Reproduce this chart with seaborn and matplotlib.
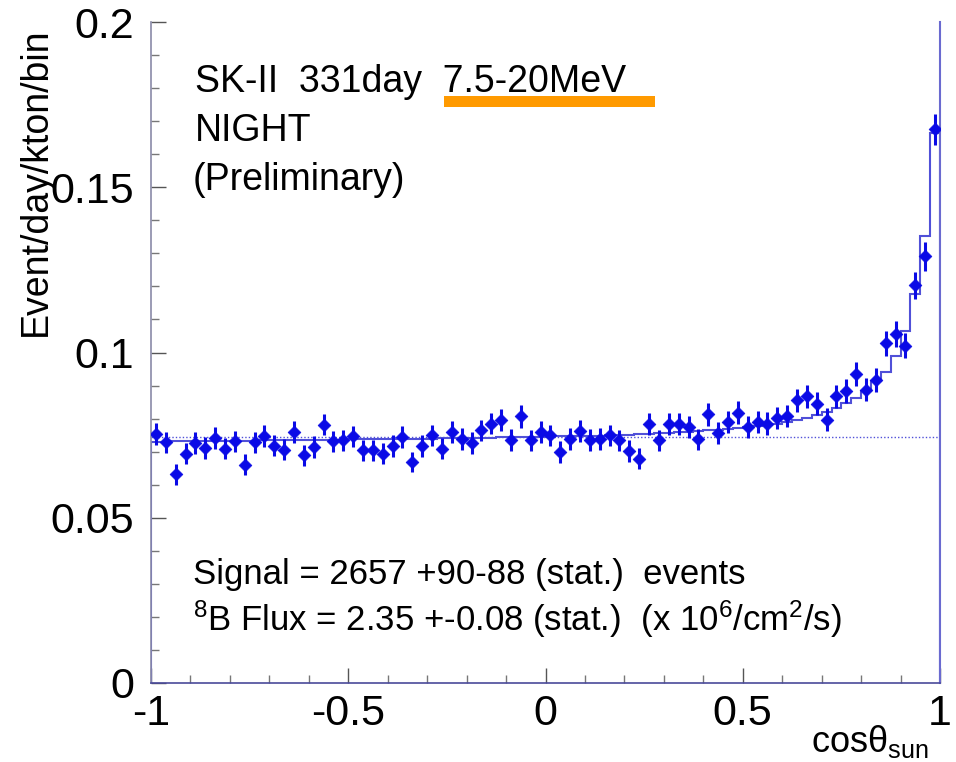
import numpy as np
import matplotlib
matplotlib.use("Agg")
import matplotlib.pyplot as plt
from matplotlib.patches import Rectangle
from matplotlib.ticker import MultipleLocator
import seaborn as sns

# ---------------- data ----------------
bin_edges = np.linspace(-1.0, 1.0, 81)
bin_centers = 0.5 * (bin_edges[:-1] + bin_edges[1:])

data_values = [
    0.0754, 0.0728, 0.0631, 0.0694, 0.0726, 0.0711, 0.0741, 0.0709, 0.0731, 0.0661,
    0.0728, 0.0748, 0.0718, 0.0706, 0.0759, 0.0689, 0.0714, 0.0782, 0.0731, 0.0734,
    0.0746, 0.0704, 0.0704, 0.0694, 0.0717, 0.0745, 0.0669, 0.0717, 0.0749, 0.0709,
    0.0759, 0.0739, 0.0726, 0.0764, 0.0785, 0.0795, 0.0736, 0.0807, 0.0734, 0.0759,
    0.0749, 0.0699, 0.0739, 0.0762, 0.0736, 0.0739, 0.0749, 0.0734, 0.0702, 0.0679,
    0.0784, 0.0734, 0.0784, 0.0784, 0.0774, 0.0737, 0.0813, 0.0756, 0.0789, 0.0818,
    0.0774, 0.0789, 0.0785, 0.0802, 0.0808, 0.0855, 0.0867, 0.0845, 0.0797, 0.0867,
    0.0883, 0.0934, 0.0888, 0.0917, 0.1028, 0.1056, 0.1021, 0.1204, 0.1291, 0.1676,
]

data_errors = [
    0.0033, 0.0032, 0.0031, 0.0032, 0.0032, 0.0032, 0.0033, 0.0032, 0.0032, 0.0031,
    0.0032, 0.0033, 0.0032, 0.0032, 0.0033, 0.0032, 0.0032, 0.0033, 0.0032, 0.0032,
    0.0033, 0.0032, 0.0032, 0.0032, 0.0032, 0.0033, 0.0031, 0.0032, 0.0033, 0.0032,
    0.0033, 0.0033, 0.0032, 0.0033, 0.0033, 0.0034, 0.0033, 0.0034, 0.0033, 0.0033,
    0.0033, 0.0032, 0.0033, 0.0033, 0.0033, 0.0033, 0.0033, 0.0033, 0.0032, 0.0032,
    0.0033, 0.0033, 0.0033, 0.0033, 0.0033, 0.0033, 0.0034, 0.0033, 0.0034, 0.0034,
    0.0033, 0.0034, 0.0034, 0.0034, 0.0034, 0.0035, 0.0035, 0.0035, 0.0034, 0.0035,
    0.0036, 0.0036, 0.0036, 0.0036, 0.0038, 0.0038, 0.0038, 0.0041, 0.0043, 0.0047,
]

fit_values = [
    0.0730, 0.0730, 0.0731, 0.0731, 0.0731, 0.0732, 0.0732, 0.0732, 0.0733, 0.0733,
    0.0733, 0.0734, 0.0734, 0.0734, 0.0735, 0.0735, 0.0735, 0.0736, 0.0736, 0.0736,
    0.0737, 0.0737, 0.0737, 0.0738, 0.0738, 0.0738, 0.0739, 0.0739, 0.0739, 0.0740,
    0.0740, 0.0741, 0.0741, 0.0742, 0.0742, 0.0743, 0.0743, 0.0744, 0.0744, 0.0745,
    0.0745, 0.0746, 0.0746, 0.0747, 0.0747, 0.0748, 0.0749, 0.0750, 0.0751, 0.0752,
    0.0754, 0.0755, 0.0757, 0.0758, 0.0760, 0.0762, 0.0764, 0.0766, 0.0769, 0.0771,
    0.0774, 0.0777, 0.0781, 0.0785, 0.0790, 0.0797, 0.0803, 0.0810, 0.0820, 0.0833,
    0.0847, 0.0862, 0.0883, 0.0915, 0.0940, 0.0990, 0.1066, 0.1177, 0.1353, 0.1665,
]

background_level = 0.0745

x_ticks = [-1, -0.5, 0, 0.5, 1]
x_tick_labels = ["-1", "-0.5", "0", "0.5", "1"]
y_ticks = [0, 0.05, 0.1, 0.15, 0.2]
y_tick_labels = ["0", "0.05", "0.1", "0.15", "0.2"]

# ---------------- style ----------------
sns.set_theme(style="white")
plt.rcParams["font.family"] = ["Liberation Sans", "DejaVu Sans"]
plt.rcParams["mathtext.fontset"] = "custom"
plt.rcParams["mathtext.rm"] = "Liberation Sans"
plt.rcParams["mathtext.it"] = "Liberation Sans:italic"
plt.rcParams["mathtext.bf"] = "Liberation Sans:bold"
plt.rcParams["text.color"] = "black"

W, H = 956, 762
fig = plt.figure(figsize=(W / 100, H / 100), dpi=100)
ax_left, ax_right, ax_top, ax_bottom = 151, 940, 22, 683
ax = fig.add_axes([ax_left / W, 1 - ax_bottom / H,
                   (ax_right - ax_left) / W, (ax_bottom - ax_top) / H])

point_color = "#0a0ae6"
fit_color = "#5050d8"

# fit histogram (step)
ax.stairs(fit_values, bin_edges, baseline=0, fill=False,
          color=fit_color, linewidth=1.5, zorder=2)
# flat background dotted line
ax.axhline(background_level, color=fit_color, linestyle=(0, (1, 1.5)),
           linewidth=1.0, zorder=1)

# data with error bars
ax.errorbar(bin_centers, data_values, yerr=data_errors, fmt="none",
            ecolor=point_color, elinewidth=2.2, capsize=0, zorder=3)
sns.scatterplot(x=bin_centers, y=data_values, marker="D", s=42,
                color=point_color, edgecolor=point_color, linewidth=0.5,
                ax=ax, zorder=4, legend=False)

ax.set_xlim(-1, 1)
ax.set_ylim(0, 0.2)
ax.set_xticks(x_ticks)
ax.set_xticklabels(x_tick_labels)
ax.set_yticks(y_ticks)
ax.set_yticklabels(y_tick_labels)
ax.xaxis.set_minor_locator(MultipleLocator(0.1))
ax.yaxis.set_minor_locator(MultipleLocator(0.01))
ax.tick_params(axis="both", which="both", bottom=True, left=True,
               top=False, right=False)
ax.tick_params(axis="both", which="major", direction="in", length=11,
               width=1.0, color="#555555", labelsize=31, labelcolor="black")
ax.tick_params(axis="both", which="minor", direction="in", length=6,
               width=1.0, color="#777777")
ax.tick_params(axis="x", which="major", pad=8)
ax.tick_params(axis="y", which="major", pad=12)
ax.set_xlabel("")
ax.set_ylabel("")

ax.spines["top"].set_visible(False)
ax.spines["left"].set_color("#8a8aa8")
ax.spines["left"].set_linewidth(1.2)
ax.spines["bottom"].set_color("#4a4a9a")
ax.spines["bottom"].set_linewidth(1.2)
ax.spines["right"].set_color("#6a6ad0")
ax.spines["right"].set_linewidth(1.5)

# axis titles
fig.text(36 / W, 1 - 182 / H, "Event/day/kton/bin", rotation=90,
         ha="center", va="center", fontsize=27, color="black")
fig.text(929 / W, 1 - 752 / H, "cosθ$_{\\mathrm{sun}}$",
         ha="right", va="baseline", fontsize=26, color="black")

# annotations
fs = 27
fig.text(195 / W, 1 - 92 / H, "SK-II  331day  7.5-20MeV", ha="left",
         va="baseline", fontsize=fs, color="black")
fig.text(195 / W, 1 - 141 / H, "NIGHT", ha="left", va="baseline", fontsize=fs,
         color="black")
fig.text(193 / W, 1 - 190 / H, "(Preliminary)", ha="left", va="baseline",
         fontsize=fs, color="black")
fig.patches.append(Rectangle((444 / W, 1 - 107 / H), (655 - 444) / W, 11 / H,
                             transform=fig.transFigure, facecolor="#ff9a00",
                             edgecolor="none", zorder=5))

fs2 = 25
fig.text(193 / W, 1 - 584 / H, "Signal = 2657 +90-88 (stat.)  events",
         ha="left", va="baseline", fontsize=fs2, color="black")
fig.text(193 / W, 1 - 631 / H,
         r"$^{8}$B Flux = 2.35 +-0.08 (stat.)  (x 10$^{6}$/cm$^{2}$/s)",
         ha="left", va="baseline", fontsize=fs2, color="black")

fig.savefig("out.png", dpi=100, facecolor="white")
